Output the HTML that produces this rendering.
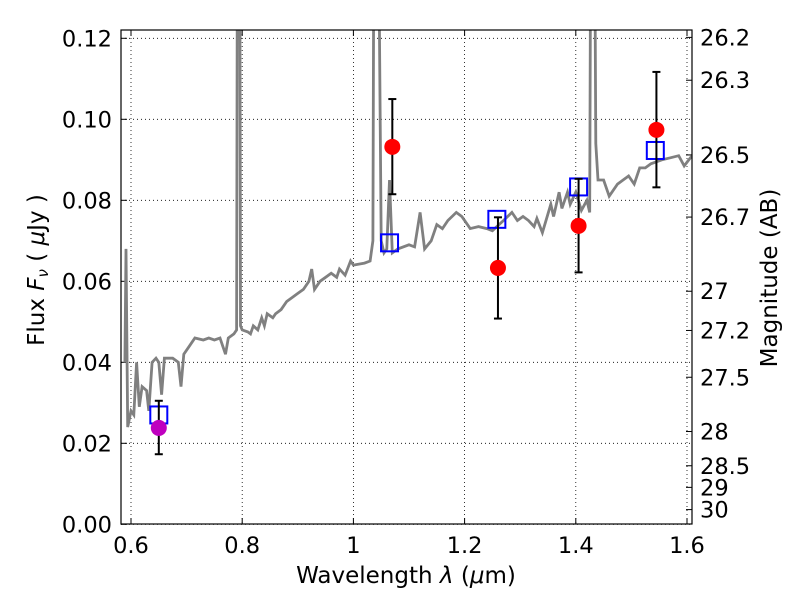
<!DOCTYPE html>
<html><head><meta charset="utf-8"><style>
body{margin:0;background:#fff}
svg{font-family:"DejaVu Sans","Liberation Sans",sans-serif}
</style></head><body>
<svg id="c" width="800" height="600"></svg>
<script>
const specX=[0.589,0.591,0.594,0.6,0.605,0.61,0.615,0.62,0.628,0.632,0.638,0.645,0.65,0.655,0.66,0.675,0.685,0.69,0.695,0.705,0.715,0.73,0.74,0.75,0.76,0.77,0.775,0.785,0.79,0.792,0.795,0.797,0.8,0.81,0.815,0.82,0.828,0.835,0.84,0.845,0.855,0.86,0.87,0.88,0.89,0.9,0.91,0.92,0.925,0.93,0.94,0.95,0.96,0.97,0.975,0.985,0.995,1.0,1.02,1.03,1.035,1.038,1.042,1.05,1.055,1.06,1.065,1.07,1.08,1.1,1.11,1.12,1.128,1.14,1.15,1.16,1.17,1.185,1.195,1.21,1.225,1.24,1.25,1.27,1.285,1.295,1.305,1.315,1.325,1.33,1.34,1.355,1.36,1.37,1.375,1.385,1.39,1.4,1.41,1.42,1.425,1.428,1.432,1.436,1.44,1.45,1.46,1.475,1.485,1.495,1.505,1.515,1.525,1.535,1.555,1.57,1.585,1.595,1.609];
const specY=[0.04,0.068,0.024,0.028,0.027,0.04,0.029,0.034,0.033,0.028,0.04,0.041,0.04,0.032,0.041,0.041,0.04,0.034,0.042,0.044,0.046,0.0455,0.046,0.0455,0.046,0.042,0.046,0.047,0.048,0.2,0.2,0.049,0.048,0.0475,0.047,0.049,0.048,0.051,0.049,0.052,0.051,0.052,0.053,0.055,0.056,0.057,0.058,0.06,0.063,0.058,0.06,0.061,0.062,0.061,0.063,0.0615,0.065,0.064,0.0645,0.065,0.07,0.2,0.2,0.07,0.067,0.068,0.085,0.067,0.068,0.069,0.0685,0.077,0.068,0.07,0.074,0.073,0.075,0.077,0.076,0.073,0.0735,0.073,0.0725,0.075,0.077,0.075,0.076,0.075,0.0735,0.0755,0.072,0.079,0.076,0.082,0.078,0.082,0.079,0.082,0.0775,0.08,0.077,0.2,0.2,0.094,0.085,0.085,0.081,0.084,0.085,0.086,0.084,0.088,0.088,0.089,0.09,0.0905,0.091,0.0885,0.091];
const obsX=[0.65,1.07,1.26,1.405,1.545];
const obsY=[0.0238,0.0932,0.0633,0.0737,0.0974];
const obsLo=[0.0173,0.0815,0.0508,0.0622,0.0832];
const obsHi=[0.0305,0.105,0.0758,0.0853,0.1117];
const modX=[0.65,1.065,1.258,1.405,1.543];
const modY=[0.027,0.0695,0.0753,0.0833,0.0923];
const xTicks=[0.6,0.8,1.0,1.2,1.4,1.6];
const xTickLabels=["0.6","0.8","1","1.2","1.4","1.6"];
const yTicks=[0,0.02,0.04,0.06,0.08,0.10,0.12];
const yTickLabels=["0.00","0.02","0.04","0.06","0.08","0.10","0.12"];
const magTicks=[26.2,26.3,26.5,26.7,27,27.2,27.5,28,28.5,29,30];
const magLabels=["26.2","26.3","26.5","26.7","27","27.2","27.5","28","28.5","29","30"];

const L=121,R=692,T=30,B=524;
const X=v=>131+(v-0.6)*556;
const Y=v=>524.3-v*4050;
const NS="http://www.w3.org/2000/svg";
const svg=document.getElementById('c');
function mk(t,a,p){const e=document.createElementNS(NS,t);for(const k in a)e.setAttribute(k,a[k]);(p||svg).appendChild(e);return e;}
const clip=mk('clipPath',{id:'pc'});mk('rect',{x:L,y:T,width:R-L,height:B-T},clip);
xTicks.forEach((t,i)=>{
 const g=mk('line',{x1:X(t),x2:X(t),y1:T,y2:B,stroke:'#000','stroke-width':0.8,'stroke-dasharray':'1,3'});
 
 mk('line',{x1:X(t),x2:X(t),y1:B,y2:B-6,stroke:'#000'});mk('line',{x1:X(t),x2:X(t),y1:T,y2:T+6,stroke:'#000'});
 const tx=mk('text',{x:X(t),y:553,'font-size':22.5,'text-anchor':'middle'});tx.textContent=xTickLabels[i];
 
});
yTicks.forEach((t,i)=>{
 const g=mk('line',{x1:L,x2:R,y1:Y(t),y2:Y(t),stroke:'#000','stroke-width':0.8,'stroke-dasharray':'1,3'});
 
 mk('line',{x1:L,x2:L+6,y1:Y(t),y2:Y(t),stroke:'#000'});
 const tx=mk('text',{x:112,y:Y(t)+8,'font-size':22.5,'text-anchor':'end'});tx.textContent=yTickLabels[i];
 
});
magTicks.forEach((m,i)=>{
 const f=Math.pow(10,(23.9-m)/2.5);const y=Y(f);
 mk('line',{x1:R,x2:R-6,y1:y,y2:y,stroke:'#000'});
 const tx=mk('text',{x:700,y:y+8,'font-size':22.5});tx.textContent=magLabels[i];
 
});
const pts=specX.map((x,i)=>X(x).toFixed(1)+','+Y(specY[i]).toFixed(1)).join(' ');
const sp=mk('polyline',{points:pts,fill:'none',stroke:'#808080','stroke-width':2.8,'clip-path':'url(#pc)'});

modX.forEach((x,i)=>{const r=mk('rect',{x:X(x)-8.5,y:Y(modY[i])-8.5,width:17,height:17,fill:'none',stroke:'#0000ff','stroke-width':2});
 });
obsX.forEach((x,i)=>{
 const cx=X(x);
 mk('line',{x1:cx,x2:cx,y1:Y(obsLo[i]),y2:Y(obsHi[i]),stroke:'#000','stroke-width':2});
 mk('line',{x1:cx-4,x2:cx+4,y1:Y(obsLo[i]),y2:Y(obsLo[i]),stroke:'#000','stroke-width':2});
 mk('line',{x1:cx-4,x2:cx+4,y1:Y(obsHi[i]),y2:Y(obsHi[i]),stroke:'#000','stroke-width':2});
 const c=mk('circle',{cx:cx,cy:Y(obsY[i]),r:8,fill:i==0?'#bf00bf':'#ff0000'});
 
});
const fr=mk('rect',{x:L,y:T,width:R-L,height:B-T,fill:'none',stroke:'#000','stroke-width':1.2});

const xt=mk('text',{x:406,y:583,'font-size':23,'text-anchor':'middle','xml:space':'preserve'});xt.innerHTML='Wavelength  <tspan font-style="italic">λ</tspan> (<tspan font-style="italic">μ</tspan>m)';

const yt=mk('text',{x:0,y:0,'font-size':23,'text-anchor':'middle','xml:space':'preserve',transform:'translate(44,270) rotate(-90)'});yt.innerHTML='Flux  <tspan font-style="italic">F</tspan><tspan font-style="italic" font-size="15" dy="4">ν</tspan><tspan dy="-4">  (  </tspan><tspan font-style="italic">μ</tspan>Jy )';

const rt=mk('text',{x:0,y:0,'font-size':23,'text-anchor':'middle',transform:'translate(777,278) rotate(-90)'});rt.textContent='Magnitude (AB)';

</script>
</body></html>
